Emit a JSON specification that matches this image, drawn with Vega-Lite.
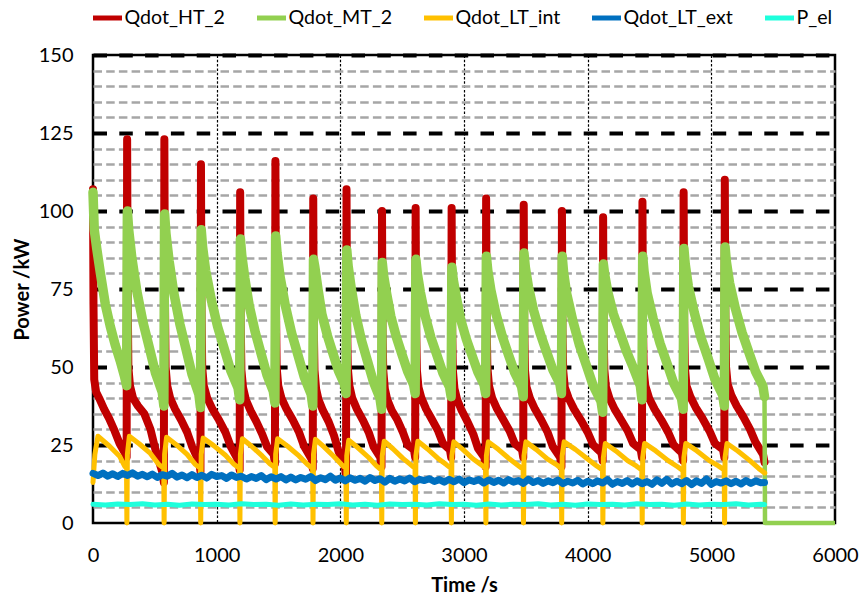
{
  "$schema": "https://vega.github.io/schema/vega-lite/v6.json",
  "width": 742,
  "height": 468,
  "autosize": {"type": "none"},
  "padding": {"left": 93, "top": 55, "right": 24, "bottom": 74},
  "background": "white",
  "config": {
    "view": {"stroke": "black", "strokeWidth": 2.5},
    "font": "Lato"
  },
  "encoding": {
    "x": {
      "field": "t", "type": "quantitative",
      "scale": {"domain": [0, 6000], "nice": false},
      "axis": {
        "title": "Time /s", "values": [0, 1000, 2000, 3000, 4000, 5000, 6000], "format": "d",
        "ticks": false, "tickSize": 0, "domain": false,
        "labelFont": "Lato", "labelFontSize": 20, "labelColor": "#000", "labelPadding": 32, "labelBaseline": "middle",
        "labelFlush": false, "labelOverlap": false,
        "grid": true, "gridColor": "#000", "gridWidth": 1.2, "gridDash": [2.5, 1.8],
        "gridOpacity": {"condition": {"test": "datum.value === 0 || datum.value === 6000", "value": 0}, "value": 1},
        "titleFont": "Lato", "titleFontSize": 20, "titleFontWeight": "bold", "titleColor": "#000",
        "titleX": 371, "titleY": 62, "titleBaseline": "middle", "titleAlign": "center"
      }
    },
    "y": {
      "field": "v", "type": "quantitative",
      "scale": {"domain": [0, 150], "nice": false},
      "axis": {
        "title": "Power /kW",
        "values": [0,5,10,15,20,25,30,35,40,45,50,55,60,65,70,75,80,85,90,95,100,105,110,115,120,125,130,135,140,145,150],
        "labelExpr": "datum.value % 25 === 0 ? datum.label : ''",
        "ticks": false, "tickSize": 0, "domain": false,
        "labelFont": "Lato", "labelFontSize": 20, "labelColor": "#000", "labelPadding": 20, "labelBaseline": "middle",
        "labelFlush": false, "labelOverlap": false,
        "grid": true,
        "gridColor": {"condition": {"test": "datum.value % 25 === 0", "value": "#000000"}, "value": "#a6a6a6"},
        "gridWidth": {"condition": {"test": "datum.value % 25 === 0", "value": 4}, "value": 2.5},
        "gridDash": {"condition": {"test": "datum.value % 25 === 0", "value": [13.5, 12.3]}, "value": [8.5, 4.2]},
        "gridOpacity": {"condition": {"test": "datum.value === 0", "value": 0}, "value": 1},
        "titleFont": "Lato", "titleFontSize": 20, "titleFontWeight": "bold", "titleColor": "#000",
        "titleX": -71, "titleY": 234, "titleAngle": 270, "titleBaseline": "middle", "titleAlign": "center"
      }
    }
  },
  "layer": [
    {
      "data": {"values": [
        {"t":0,"v":107},{"t":4,"v":70},{"t":10,"v":46},{"t":25,"v":42},{"t":50,"v":40},{"t":90,"v":36.5},{"t":130,"v":33.5},{"t":175,"v":29.5},{"t":215,"v":25.5},{"t":250,"v":23},{"t":272,"v":21},
        {"t":276,"v":123},{"t":280,"v":76},{"t":286,"v":50},{"t":299,"v":44},{"t":324,"v":40},{"t":364,"v":37.5},{"t":415,"v":35},{"t":465,"v":30},{"t":505,"v":23.5},{"t":563,"v":16},{"t":573,"v":13},
        {"t":577,"v":123},{"t":581,"v":76},{"t":587,"v":50},{"t":600,"v":44},{"t":624,"v":40},{"t":664,"v":36.5},{"t":713,"v":33},{"t":762,"v":29},{"t":802,"v":24.5},{"t":859,"v":19.5},{"t":869,"v":16.5},
        {"t":873,"v":115},{"t":877,"v":71},{"t":883,"v":50},{"t":896,"v":44},{"t":924,"v":40},{"t":966,"v":36.5},{"t":1019,"v":33},{"t":1072,"v":29},{"t":1114,"v":24.5},{"t":1176,"v":20},{"t":1186,"v":17},
        {"t":1190,"v":106},{"t":1194,"v":66},{"t":1200,"v":49},{"t":1213,"v":43.5},{"t":1236,"v":39.5},{"t":1274,"v":36},{"t":1321,"v":32.5},{"t":1368,"v":28.5},{"t":1407,"v":24.5},{"t":1461,"v":22},{"t":1471,"v":19},
        {"t":1475,"v":116},{"t":1479,"v":72},{"t":1485,"v":50},{"t":1498,"v":44},{"t":1524,"v":40},{"t":1565,"v":36.5},{"t":1616,"v":33},{"t":1667,"v":29},{"t":1708,"v":24.5},{"t":1767,"v":20.5},{"t":1777,"v":17.5},
        {"t":1781,"v":104},{"t":1785,"v":64},{"t":1791,"v":49},{"t":1804,"v":43},{"t":1824,"v":39.5},{"t":1860,"v":36},{"t":1905,"v":32.5},{"t":1949,"v":28},{"t":1985,"v":23},{"t":2036,"v":18},{"t":2046,"v":15},
        {"t":2050,"v":107},{"t":2054,"v":66},{"t":2060,"v":50},{"t":2073,"v":44},{"t":2096,"v":40},{"t":2134,"v":36.5},{"t":2182,"v":33},{"t":2230,"v":29},{"t":2268,"v":24.5},{"t":2323,"v":21},{"t":2333,"v":18},
        {"t":2337,"v":100},{"t":2341,"v":62},{"t":2347,"v":49},{"t":2360,"v":43},{"t":2380,"v":39.5},{"t":2417,"v":36},{"t":2462,"v":33},{"t":2507,"v":29},{"t":2544,"v":25},{"t":2595,"v":23.5},{"t":2605,"v":21},
        {"t":2609,"v":101},{"t":2613,"v":63},{"t":2619,"v":49},{"t":2632,"v":43.5},{"t":2656,"v":40},{"t":2694,"v":36.5},{"t":2743,"v":33},{"t":2791,"v":29.5},{"t":2830,"v":25.5},{"t":2886,"v":23.5},{"t":2896,"v":21},
        {"t":2900,"v":101},{"t":2904,"v":63},{"t":2910,"v":49},{"t":2923,"v":43},{"t":2945,"v":39.5},{"t":2982,"v":36},{"t":3028,"v":32.5},{"t":3075,"v":28.5},{"t":3112,"v":24},{"t":3165,"v":21},{"t":3175,"v":18},
        {"t":3179,"v":104},{"t":3183,"v":65},{"t":3189,"v":50},{"t":3202,"v":44},{"t":3228,"v":40},{"t":3268,"v":36.5},{"t":3319,"v":33},{"t":3369,"v":29.5},{"t":3410,"v":25.5},{"t":3469,"v":23.5},{"t":3479,"v":21},
        {"t":3483,"v":102},{"t":3487,"v":63},{"t":3493,"v":49},{"t":3506,"v":43.5},{"t":3533,"v":40},{"t":3574,"v":36.5},{"t":3625,"v":33},{"t":3677,"v":29},{"t":3718,"v":24.5},{"t":3778,"v":21},{"t":3788,"v":18},
        {"t":3792,"v":100},{"t":3796,"v":62},{"t":3802,"v":49},{"t":3815,"v":43.5},{"t":3846,"v":40},{"t":3890,"v":36.5},{"t":3945,"v":33},{"t":4001,"v":29},{"t":4045,"v":25},{"t":4111,"v":22.5},{"t":4121,"v":20},
        {"t":4125,"v":98},{"t":4129,"v":61},{"t":4135,"v":49},{"t":4148,"v":43.5},{"t":4176,"v":40},{"t":4218,"v":36.5},{"t":4271,"v":33},{"t":4324,"v":29.5},{"t":4367,"v":25.5},{"t":4429,"v":23.5},{"t":4439,"v":21},
        {"t":4443,"v":103},{"t":4447,"v":64},{"t":4453,"v":49},{"t":4466,"v":44},{"t":4497,"v":40},{"t":4541,"v":36.5},{"t":4596,"v":33},{"t":4652,"v":29},{"t":4696,"v":25},{"t":4762,"v":22.5},{"t":4772,"v":20},
        {"t":4776,"v":106},{"t":4780,"v":66},{"t":4786,"v":50},{"t":4799,"v":44},{"t":4830,"v":40.5},{"t":4874,"v":37},{"t":4929,"v":33.5},{"t":4985,"v":29.5},{"t":5029,"v":25.5},{"t":5095,"v":23.5},{"t":5105,"v":21},
        {"t":5109,"v":110},{"t":5113,"v":68},{"t":5119,"v":50},{"t":5132,"v":44.5},{"t":5161,"v":41},{"t":5205,"v":37.5},{"t":5259,"v":34},{"t":5313,"v":30},{"t":5356,"v":26},{"t":5418,"v":22},{"t":5430,"v":19.5}
      ]},
      "mark": {"type": "line", "strokeWidth": 8, "strokeJoin": "round", "strokeCap": "round"},
      "encoding": {
        "color": {
          "datum": "Qdot_HT_2", "type": "nominal",
          "scale": {
            "domain": ["Qdot_HT_2", "Qdot_MT_2", "Qdot_LT_int", "Qdot_LT_ext", "P_el"],
            "range": ["#C00000", "#92D050", "#FFC000", "#0070C0", "#1EFFDC"]
          },
          "legend": {
            "orient": "none", "legendX": -2.5, "legendY": -54, "direction": "horizontal", "title": null,
            "padding": 0, "symbolType": "stroke", "symbolSize": 841, "symbolStrokeWidth": 5,
            "labelFont": "Lato", "labelFontSize": 19.6, "labelColor": "#000", "labelOffset": 0, "columnPadding": 21
          }
        }
      }
    },
    {
      "data": {"values": [
        {"t":0,"v":106},{"t":10,"v":94},{"t":30,"v":88},{"t":60,"v":80},{"t":100,"v":70},{"t":140,"v":63},{"t":180,"v":57},{"t":220,"v":52},{"t":255,"v":47},{"t":272,"v":44},
        {"t":278,"v":100},{"t":289,"v":93.8},{"t":314,"v":85},{"t":354,"v":74.4},{"t":404,"v":64.4},{"t":455,"v":56.3},{"t":505,"v":48.1},{"t":560,"v":41.9},{"t":573,"v":37.5},
        {"t":579,"v":99},{"t":590,"v":92.8},{"t":615,"v":84.1},{"t":654,"v":73.6},{"t":703,"v":63.7},{"t":753,"v":55.6},{"t":802,"v":47.5},{"t":856,"v":41.3},{"t":869,"v":37},
        {"t":875,"v":94},{"t":886,"v":88.6},{"t":911,"v":80.9},{"t":956,"v":71.7},{"t":1008,"v":62.9},{"t":1061,"v":55.9},{"t":1114,"v":48.8},{"t":1173,"v":43.3},{"t":1186,"v":39.5},
        {"t":1192,"v":91},{"t":1203,"v":85.8},{"t":1228,"v":78.4},{"t":1264,"v":69.5},{"t":1312,"v":61.1},{"t":1359,"v":54.3},{"t":1407,"v":47.4},{"t":1458,"v":42.2},{"t":1471,"v":38.5},
        {"t":1477,"v":92},{"t":1488,"v":86.6},{"t":1513,"v":78.9},{"t":1555,"v":69.7},{"t":1606,"v":60.9},{"t":1657,"v":53.9},{"t":1708,"v":46.8},{"t":1764,"v":41.3},{"t":1777,"v":37.5},
        {"t":1783,"v":84.5},{"t":1794,"v":82},{"t":1819,"v":75},{"t":1851,"v":66.9},{"t":1896,"v":60},{"t":1940,"v":54.4},{"t":1985,"v":48.8},{"t":2033,"v":44.5},{"t":2046,"v":41.5},
        {"t":2052,"v":87.5},{"t":2063,"v":82.4},{"t":2088,"v":75.3},{"t":2125,"v":66.6},{"t":2172,"v":58.4},{"t":2220,"v":51.8},{"t":2268,"v":45.2},{"t":2320,"v":40.1},{"t":2333,"v":36.5},
        {"t":2339,"v":83.5},{"t":2350,"v":79.3},{"t":2375,"v":73.4},{"t":2408,"v":66.3},{"t":2453,"v":59.6},{"t":2498,"v":54.1},{"t":2544,"v":48.6},{"t":2592,"v":44.4},{"t":2605,"v":41.5},
        {"t":2611,"v":84.5},{"t":2622,"v":80.1},{"t":2647,"v":74},{"t":2685,"v":66.5},{"t":2733,"v":59.4},{"t":2782,"v":53.7},{"t":2830,"v":48},{"t":2883,"v":43.6},{"t":2896,"v":40.5},
        {"t":2902,"v":82},{"t":2913,"v":78},{"t":2938,"v":72.3},{"t":2972,"v":65.4},{"t":3019,"v":58.9},{"t":3065,"v":53.7},{"t":3112,"v":48.4},{"t":3162,"v":44.3},{"t":3175,"v":41.5},
        {"t":3181,"v":85.5},{"t":3192,"v":81},{"t":3217,"v":74.7},{"t":3258,"v":67.1},{"t":3309,"v":59.9},{"t":3359,"v":54},{"t":3410,"v":48.2},{"t":3466,"v":43.7},{"t":3479,"v":40.5},
        {"t":3485,"v":86.5},{"t":3496,"v":82},{"t":3521,"v":75.7},{"t":3563,"v":68.1},{"t":3615,"v":60.9},{"t":3666,"v":55},{"t":3718,"v":49.2},{"t":3775,"v":44.7},{"t":3788,"v":41.5},
        {"t":3794,"v":85.5},{"t":3805,"v":80.5},{"t":3830,"v":73.5},{"t":3879,"v":65},{"t":3934,"v":57},{"t":3990,"v":50.5},{"t":4045,"v":44},{"t":4108,"v":39},{"t":4121,"v":35.5},
        {"t":4127,"v":83},{"t":4138,"v":79.5},{"t":4163,"v":74},{"t":4208,"v":67},{"t":4261,"v":61},{"t":4314,"v":55},{"t":4367,"v":50},{"t":4426,"v":44},{"t":4439,"v":39.5},
        {"t":4445,"v":85.5},{"t":4456,"v":80.6},{"t":4481,"v":73.7},{"t":4530,"v":65.4},{"t":4585,"v":57.6},{"t":4641,"v":51.2},{"t":4696,"v":44.8},{"t":4759,"v":39.9},{"t":4772,"v":36.5},
        {"t":4778,"v":88},{"t":4789,"v":83},{"t":4814,"v":75.9},{"t":4863,"v":67.3},{"t":4918,"v":59.2},{"t":4974,"v":52.7},{"t":5029,"v":46.1},{"t":5092,"v":41},{"t":5105,"v":37.5},
        {"t":5111,"v":88.5},{"t":5122,"v":83.7},{"t":5147,"v":77},{"t":5194,"v":68.8},{"t":5248,"v":61.1},{"t":5302,"v":54.9},{"t":5356,"v":48.7},{"t":5417,"v":43.9},{"t":5430,"v":40.5}
      ]},
      "mark": {"type": "line", "strokeWidth": 9.5, "strokeJoin": "round", "strokeCap": "round"},
      "encoding": {"color": {"datum": "Qdot_MT_2", "type": "nominal"}}
    },
    {
      "data": {"values": [
        {"t":5430,"v":40.5},{"t":5434,"v":0},{"t":6000,"v":0}
      ]},
      "mark": {"type": "line", "strokeWidth": 4.5, "strokeJoin": "round", "strokeCap": "butt"},
      "encoding": {"color": {"datum": "Qdot_MT_2", "type": "nominal"}}
    },
    {
      "data": {"values": [
        {"t":0,"v":13},{"t":15,"v":22},{"t":40,"v":27.8},{"t":134,"v":24.6},{"t":215,"v":21.4},{"t":255,"v":18.3},{"t":271,"v":17.5},
        {"t":274,"v":0},{"t":278,"v":22},{"t":294,"v":27.8},{"t":373,"v":25.4},{"t":464,"v":22.3},{"t":530,"v":18.8},{"t":572,"v":17.5},
        {"t":575,"v":0},{"t":579,"v":22},{"t":595,"v":27.5},{"t":673,"v":25.1},{"t":761,"v":22},{"t":827,"v":18.8},{"t":868,"v":17.5},
        {"t":871,"v":0},{"t":875,"v":22},{"t":891,"v":27.2},{"t":976,"v":24.8},{"t":1071,"v":21.7},{"t":1140,"v":18.8},{"t":1185,"v":17.5},
        {"t":1188,"v":0},{"t":1192,"v":22},{"t":1208,"v":27},{"t":1282,"v":24.6},{"t":1368,"v":21.5},{"t":1430,"v":19},{"t":1470,"v":17.8},
        {"t":1473,"v":0},{"t":1477,"v":22},{"t":1493,"v":27},{"t":1574,"v":24.6},{"t":1666,"v":21.5},{"t":1733,"v":18.8},{"t":1776,"v":17.5},
        {"t":1779,"v":0},{"t":1783,"v":22},{"t":1799,"v":26.8},{"t":1868,"v":24.4},{"t":1948,"v":21.3},{"t":2008,"v":18.8},{"t":2045,"v":17.5},
        {"t":2048,"v":0},{"t":2052,"v":21.5},{"t":2068,"v":26.5},{"t":2143,"v":24.1},{"t":2229,"v":21},{"t":2292,"v":18.3},{"t":2332,"v":17},
        {"t":2335,"v":0},{"t":2339,"v":21.5},{"t":2355,"v":26.2},{"t":2425,"v":23.8},{"t":2506,"v":20.7},{"t":2566,"v":18.8},{"t":2604,"v":17.5},
        {"t":2607,"v":0},{"t":2611,"v":21.5},{"t":2627,"v":26.2},{"t":2703,"v":23.8},{"t":2790,"v":20.7},{"t":2854,"v":18.8},{"t":2895,"v":17.5},
        {"t":2898,"v":0},{"t":2902,"v":21.5},{"t":2918,"v":26},{"t":2990,"v":23.6},{"t":3074,"v":20.5},{"t":3135,"v":18.8},{"t":3174,"v":17.5},
        {"t":3177,"v":0},{"t":3181,"v":21.5},{"t":3197,"v":26},{"t":3277,"v":23.6},{"t":3369,"v":20.5},{"t":3435,"v":18.5},{"t":3478,"v":17.2},
        {"t":3481,"v":0},{"t":3485,"v":21.5},{"t":3501,"v":26},{"t":3583,"v":23.6},{"t":3676,"v":20.5},{"t":3744,"v":18.8},{"t":3787,"v":17.5},
        {"t":3790,"v":0},{"t":3794,"v":21.5},{"t":3810,"v":26},{"t":3900,"v":23.6},{"t":4000,"v":20.5},{"t":4073,"v":18.3},{"t":4120,"v":17},
        {"t":4123,"v":0},{"t":4127,"v":21},{"t":4143,"v":25.5},{"t":4228,"v":23.1},{"t":4323,"v":20},{"t":4393,"v":18.3},{"t":4438,"v":17},
        {"t":4441,"v":0},{"t":4445,"v":21},{"t":4461,"v":25.5},{"t":4551,"v":23.1},{"t":4651,"v":20},{"t":4724,"v":18.1},{"t":4771,"v":16.8},
        {"t":4774,"v":0},{"t":4778,"v":21},{"t":4794,"v":25.5},{"t":4884,"v":23.1},{"t":4984,"v":20},{"t":5057,"v":18.3},{"t":5104,"v":17},
        {"t":5107,"v":0},{"t":5111,"v":21},{"t":5127,"v":25.5},{"t":5214,"v":23.1},{"t":5312,"v":20},{"t":5383,"v":17.5},{"t":5432,"v":16}
      ]},
      "mark": {"type": "line", "strokeWidth": 5, "strokeJoin": "round", "strokeCap": "round"},
      "encoding": {"color": {"datum": "Qdot_LT_int", "type": "nominal"}}
    },
    {
      "data": {"values": [
        {"t":0,"v":15.9},{"t":40,"v":15.2},{"t":80,"v":16.0},{"t":120,"v":15.0},{"t":160,"v":15.8},{"t":200,"v":14.9},{"t":240,"v":15.9},{"t":280,"v":15.2},{"t":320,"v":16.1},{"t":360,"v":15.0},
        {"t":400,"v":15.6},{"t":440,"v":14.8},{"t":480,"v":15.7},{"t":520,"v":14.6},{"t":560,"v":15.5},{"t":600,"v":15.0},{"t":640,"v":15.9},{"t":680,"v":14.7},{"t":720,"v":15.4},{"t":760,"v":14.5},
        {"t":800,"v":15.5},{"t":840,"v":14.6},{"t":880,"v":15.3},{"t":920,"v":14.4},{"t":960,"v":15.6},{"t":1000,"v":14.9},{"t":1040,"v":15.2},{"t":1080,"v":14.3},{"t":1120,"v":15.4},{"t":1160,"v":14.6},
        {"t":1200,"v":15.0},{"t":1240,"v":14.1},{"t":1280,"v":14.9},{"t":1320,"v":14.3},{"t":1360,"v":15.2},{"t":1400,"v":13.9},{"t":1440,"v":14.8},{"t":1480,"v":14.1},{"t":1520,"v":14.9},{"t":1560,"v":13.8},
        {"t":1600,"v":14.7},{"t":1640,"v":13.8},{"t":1680,"v":14.6},{"t":1720,"v":14.0},{"t":1760,"v":14.9},{"t":1800,"v":13.6},{"t":1840,"v":14.5},{"t":1880,"v":13.9},{"t":1920,"v":15.0},{"t":1960,"v":13.7},
        {"t":2000,"v":14.4},{"t":2040,"v":13.5},{"t":2080,"v":14.5},{"t":2120,"v":13.7},{"t":2160,"v":14.3},{"t":2200,"v":13.4},{"t":2240,"v":14.6},{"t":2280,"v":13.6},{"t":2320,"v":14.2},{"t":2360,"v":13.1},
        {"t":2400,"v":14.3},{"t":2440,"v":13.4},{"t":2480,"v":14.1},{"t":2520,"v":13.5},{"t":2560,"v":14.4},{"t":2600,"v":13.2},{"t":2640,"v":14.0},{"t":2680,"v":13.6},{"t":2720,"v":14.2},{"t":2760,"v":13.3},
        {"t":2800,"v":13.9},{"t":2840,"v":13.1},{"t":2880,"v":14.0},{"t":2920,"v":13.2},{"t":2960,"v":14.1},{"t":3000,"v":12.9},{"t":3040,"v":13.8},{"t":3080,"v":13.3},{"t":3120,"v":13.9},{"t":3160,"v":12.8},
        {"t":3200,"v":13.8},{"t":3240,"v":13.0},{"t":3280,"v":13.7},{"t":3320,"v":12.8},{"t":3360,"v":13.9},{"t":3400,"v":13.1},{"t":3440,"v":13.6},{"t":3480,"v":12.7},{"t":3520,"v":14.0},{"t":3560,"v":13.0},
        {"t":3600,"v":13.6},{"t":3640,"v":12.7},{"t":3680,"v":13.5},{"t":3720,"v":12.9},{"t":3760,"v":13.8},{"t":3800,"v":12.6},{"t":3840,"v":13.4},{"t":3880,"v":12.8},{"t":3920,"v":13.7},{"t":3960,"v":12.5},
        {"t":4000,"v":13.4},{"t":4040,"v":12.6},{"t":4080,"v":13.5},{"t":4120,"v":12.8},{"t":4160,"v":13.9},{"t":4200,"v":12.4},{"t":4240,"v":13.3},{"t":4280,"v":12.7},{"t":4320,"v":13.6},{"t":4360,"v":12.5},
        {"t":4400,"v":13.5},{"t":4440,"v":12.6},{"t":4480,"v":13.3},{"t":4520,"v":12.4},{"t":4560,"v":13.8},{"t":4600,"v":12.7},{"t":4640,"v":14.0},{"t":4680,"v":12.5},{"t":4720,"v":13.4},{"t":4760,"v":12.6},
        {"t":4800,"v":13.6},{"t":4840,"v":12.3},{"t":4880,"v":13.5},{"t":4920,"v":12.7},{"t":4960,"v":14.1},{"t":5000,"v":12.4},{"t":5040,"v":13.3},{"t":5080,"v":12.8},{"t":5120,"v":13.5},{"t":5160,"v":12.6},
        {"t":5200,"v":13.4},{"t":5240,"v":12.5},{"t":5280,"v":13.6},{"t":5320,"v":12.7},{"t":5360,"v":13.5},{"t":5400,"v":12.9},{"t":5430,"v":13.0}
      ]},
      "mark": {"type": "line", "strokeWidth": 7, "strokeJoin": "round", "strokeCap": "round"},
      "encoding": {"color": {"datum": "Qdot_LT_ext", "type": "nominal"}}
    },
    {
      "data": {"values": [
        {"t":0,"v":6.0},{"t":100,"v":5.8},{"t":200,"v":6.1},{"t":300,"v":5.9},{"t":400,"v":6.2},{"t":500,"v":5.8},{"t":600,"v":6.0},{"t":700,"v":5.7},{"t":800,"v":6.1},{"t":900,"v":5.9},
        {"t":1000,"v":6.0},{"t":1100,"v":5.8},{"t":1200,"v":6.2},{"t":1300,"v":5.9},{"t":1400,"v":6.0},{"t":1500,"v":5.7},{"t":1600,"v":6.1},{"t":1700,"v":5.8},{"t":1800,"v":6.0},{"t":1900,"v":5.9},
        {"t":2000,"v":6.2},{"t":2100,"v":5.8},{"t":2200,"v":6.0},{"t":2300,"v":5.7},{"t":2400,"v":6.1},{"t":2500,"v":5.9},{"t":2600,"v":6.0},{"t":2700,"v":5.8},{"t":2800,"v":6.2},{"t":2900,"v":5.9},
        {"t":3000,"v":6.0},{"t":3100,"v":5.7},{"t":3200,"v":6.1},{"t":3300,"v":5.8},{"t":3400,"v":6.0},{"t":3500,"v":5.9},{"t":3600,"v":6.2},{"t":3700,"v":5.8},{"t":3800,"v":6.0},{"t":3900,"v":5.7},
        {"t":4000,"v":6.1},{"t":4100,"v":5.9},{"t":4200,"v":6.0},{"t":4300,"v":5.8},{"t":4400,"v":6.2},{"t":4500,"v":5.9},{"t":4600,"v":6.0},{"t":4700,"v":5.7},{"t":4800,"v":6.1},{"t":4900,"v":5.8},
        {"t":5000,"v":6.0},{"t":5100,"v":5.9},{"t":5200,"v":6.2},{"t":5300,"v":5.8},{"t":5400,"v":6.0},{"t":5430,"v":5.9}
      ]},
      "mark": {"type": "line", "strokeWidth": 5, "strokeJoin": "round", "strokeCap": "round"},
      "encoding": {"color": {"datum": "P_el", "type": "nominal"}}
    }
  ]
}
